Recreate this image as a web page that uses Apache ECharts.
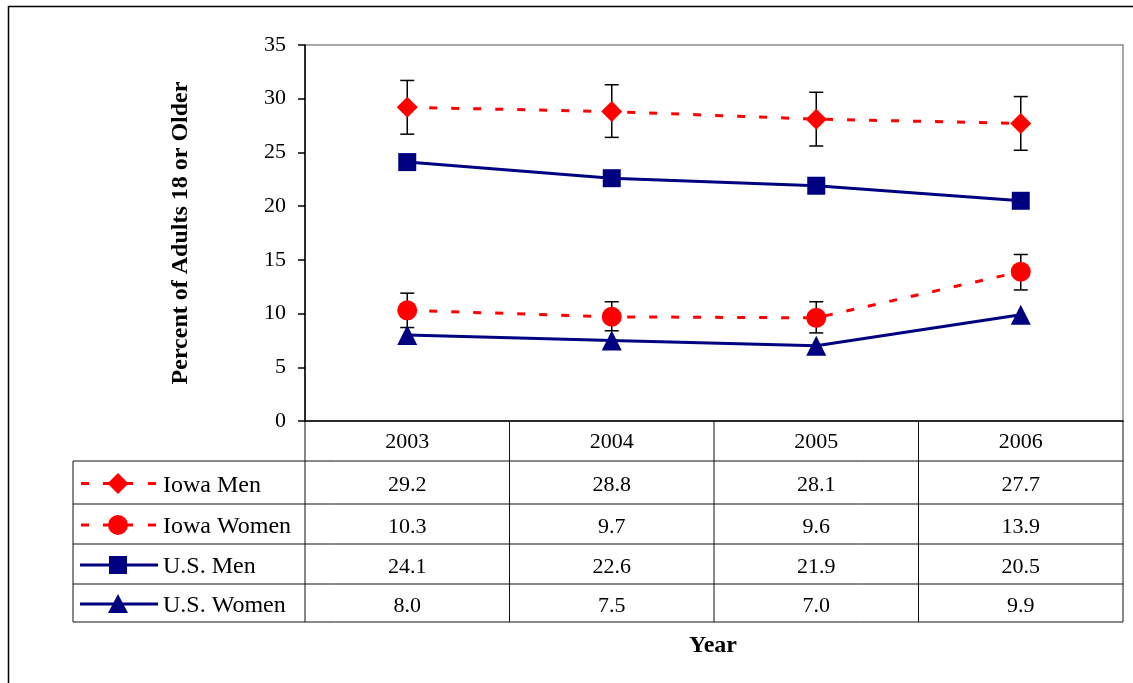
<!DOCTYPE html>
<html>
<head>
<meta charset="utf-8">
<script src="https://cdn.jsdelivr.net/npm/echarts@6/dist/echarts.min.js"></script>
<style>
  html, body { margin: 0; padding: 0; background: #fff; }
  #chart { width: 1133px; height: 683px; }
</style>
</head>
<body>
<div id="chart"></div>
<script>
// data
const years = ['2003', '2004', '2005', '2006'];
const iowaMen = [29.2, 28.8, 28.1, 27.7];
const iowaWomen = [10.3, 9.7, 9.6, 13.9];
const usMen = [24.1, 22.6, 21.9, 20.5];
const usWomen = [8.0, 7.5, 7.0, 9.9];
// confidence interval ends (estimated from the error bars)
const iowaMenLow = [26.7, 26.4, 25.6, 25.2];
const iowaMenHigh = [31.7, 31.3, 30.6, 30.2];
const iowaWomenLow = [8.7, 8.4, 8.2, 12.2];
const iowaWomenHigh = [11.9, 11.1, 11.1, 15.5];

const RED = '#ff0000';
const NAVY = '#000080';
const FONT = '"Liberation Serif", "DejaVu Serif", serif';

// layout
const G = { left: 305, top: 45, width: 818, height: 376 };
const tableLeft = 73;
const rowLines = [461, 504, 544, 584, 622];

const seriesDefs = [
    { name: 'Iowa Men', data: iowaMen, color: RED, dashed: true, symbol: 'diamond', size: 21 },
    { name: 'Iowa Women', data: iowaWomen, color: RED, dashed: true, symbol: 'circle', size: 20 },
    { name: 'U.S. Men', data: usMen, color: NAVY, dashed: false, symbol: 'rect', size: 18 },
    { name: 'U.S. Women', data: usWomen, color: NAVY, dashed: false, symbol: 'triangle', size: 20 }
];

const errData = [];
years.forEach((y, i) => {
    errData.push([i, iowaMenLow[i], iowaMenHigh[i]]);
    errData.push([i, iowaWomenLow[i], iowaWomenHigh[i]]);
});

const chart = echarts.init(document.getElementById('chart'));

// table drawn with graphic elements
const colW = G.width / years.length;
const right = G.left + G.width;
const bottom = rowLines[rowLines.length - 1];
const graphics = [];
const ln = (x1, y1, x2, y2) => ({
    type: 'line', silent: true,
    shape: { x1: x1, y1: y1, x2: x2, y2: y2 },
    style: { stroke: '#111', lineWidth: 1 }
});

// outer chart border
graphics.push({
    type: 'rect', silent: true,
    shape: { x: 8.5, y: 6.5, width: 1140, height: 700 },
    style: { fill: 'none', stroke: '#000', lineWidth: 1.5 }
});

// vertical lines of the year columns
for (let i = 0; i <= years.length; i++) {
    graphics.push(ln(G.left + i * colW, G.top + G.height, G.left + i * colW, bottom));
}
graphics.push(ln(tableLeft, rowLines[0], tableLeft, bottom));
rowLines.forEach(y => graphics.push(ln(tableLeft, y, right, y)));

seriesDefs.forEach((s, r) => {
    const cy = (rowLines[r] + rowLines[r + 1]) / 2 + 3;
    const ly = (rowLines[r] + rowLines[r + 1]) / 2 + 1;
    // values
    s.data.forEach((v, i) => {
        graphics.push({
            type: 'text', silent: true,
            x: G.left + (i + 0.5) * colW, y: cy,
            style: {
                text: v.toFixed(1), font: '22px ' + FONT, fill: '#000',
                align: 'center', verticalAlign: 'middle'
            }
        });
    });
    // legend key
    if (s.dashed) {
        [[81, 89], [103, 133], [148, 156]].forEach(d => {
            graphics.push({
                type: 'line', silent: true,
                shape: { x1: d[0], y1: ly, x2: d[1], y2: ly },
                style: { stroke: s.color, lineWidth: 3 }
            });
        });
    } else {
        graphics.push({
            type: 'line', silent: true,
            shape: { x1: 80, y1: ly, x2: 158, y2: ly },
            style: { stroke: s.color, lineWidth: 3 }
        });
    }
    const mx = 118;
    const h = s.size / 2;
    let shape;
    if (s.symbol === 'diamond') {
        shape = { type: 'polygon', shape: { points: [[mx, ly - h], [mx + h, ly], [mx, ly + h], [mx - h, ly]] } };
    } else if (s.symbol === 'circle') {
        shape = { type: 'circle', shape: { cx: mx, cy: ly, r: h } };
    } else if (s.symbol === 'rect') {
        shape = { type: 'rect', shape: { x: mx - h, y: ly - h, width: s.size, height: s.size } };
    } else {
        shape = { type: 'polygon', shape: { points: [[mx, ly - h], [mx + h, ly + h - 1], [mx - h, ly + h - 1]] } };
    }
    shape.silent = true;
    shape.style = { fill: s.color };
    graphics.push(shape);
    graphics.push({
        type: 'text', silent: true,
        x: 163, y: cy,
        style: { text: s.name, font: '24px ' + FONT, fill: '#000', verticalAlign: 'middle' }
    });
});

graphics.push({
    type: 'text', silent: true,
    x: 713, y: 646,
    style: { text: 'Year', font: 'bold 24px ' + FONT, fill: '#000', align: 'center', verticalAlign: 'middle' }
});

const option = {
    backgroundColor: '#fff',
    animation: false,
    grid: {
        left: G.left, top: G.top, width: G.width, height: G.height,
        show: true, borderColor: '#8c8c8c', borderWidth: 1.5
    },
    xAxis: {
        type: 'category',
        data: years,
        boundaryGap: true,
        axisLine: { lineStyle: { color: '#000', width: 1.5 } },
        axisTick: { show: false },
        axisLabel: { color: '#000', fontFamily: FONT, fontSize: 22, margin: 10 },
        splitLine: { show: false }
    },
    yAxis: {
        type: 'value',
        min: 0, max: 35, interval: 5,
        name: 'Percent of Adults 18 or Older',
        nameLocation: 'middle',
        nameGap: 112,
        nameTextStyle: { color: '#000', fontFamily: FONT, fontSize: 24, fontWeight: 'bold' },
        axisLine: { show: true, lineStyle: { color: '#000', width: 1.5 } },
        axisTick: { show: true, length: 7, lineStyle: { color: '#000', width: 1.5 } },
        axisLabel: { color: '#000', fontFamily: FONT, fontSize: 22, margin: 19 },
        splitLine: { show: false }
    },
    series: [
        {
            type: 'custom',
            name: 'CI',
            z: 1,
            data: errData,
            renderItem: function (params, api) {
                const lo = api.coord([api.value(0), api.value(1)]);
                const hi = api.coord([api.value(0), api.value(2)]);
                const cap = 7;
                const st = { stroke: '#000', lineWidth: 1.5 };
                return {
                    type: 'group',
                    children: [
                        { type: 'line', shape: { x1: hi[0], y1: hi[1], x2: lo[0], y2: lo[1] }, style: st },
                        { type: 'line', shape: { x1: hi[0] - cap, y1: hi[1], x2: hi[0] + cap, y2: hi[1] }, style: st },
                        { type: 'line', shape: { x1: lo[0] - cap, y1: lo[1], x2: lo[0] + cap, y2: lo[1] }, style: st }
                    ]
                };
            }
        }
    ].concat(seriesDefs.map(s => ({
        type: 'line',
        name: s.name,
        data: s.data,
        z: 3,
        symbol: s.symbol,
        symbolSize: s.size,
        showAllSymbol: true,
        itemStyle: { color: s.color, opacity: 1 },
        lineStyle: { color: s.color, width: 3, type: s.dashed ? [8, 14] : 'solid' }
    }))),
    graphic: graphics
};

chart.setOption(option);
</script>
</body>
</html>
